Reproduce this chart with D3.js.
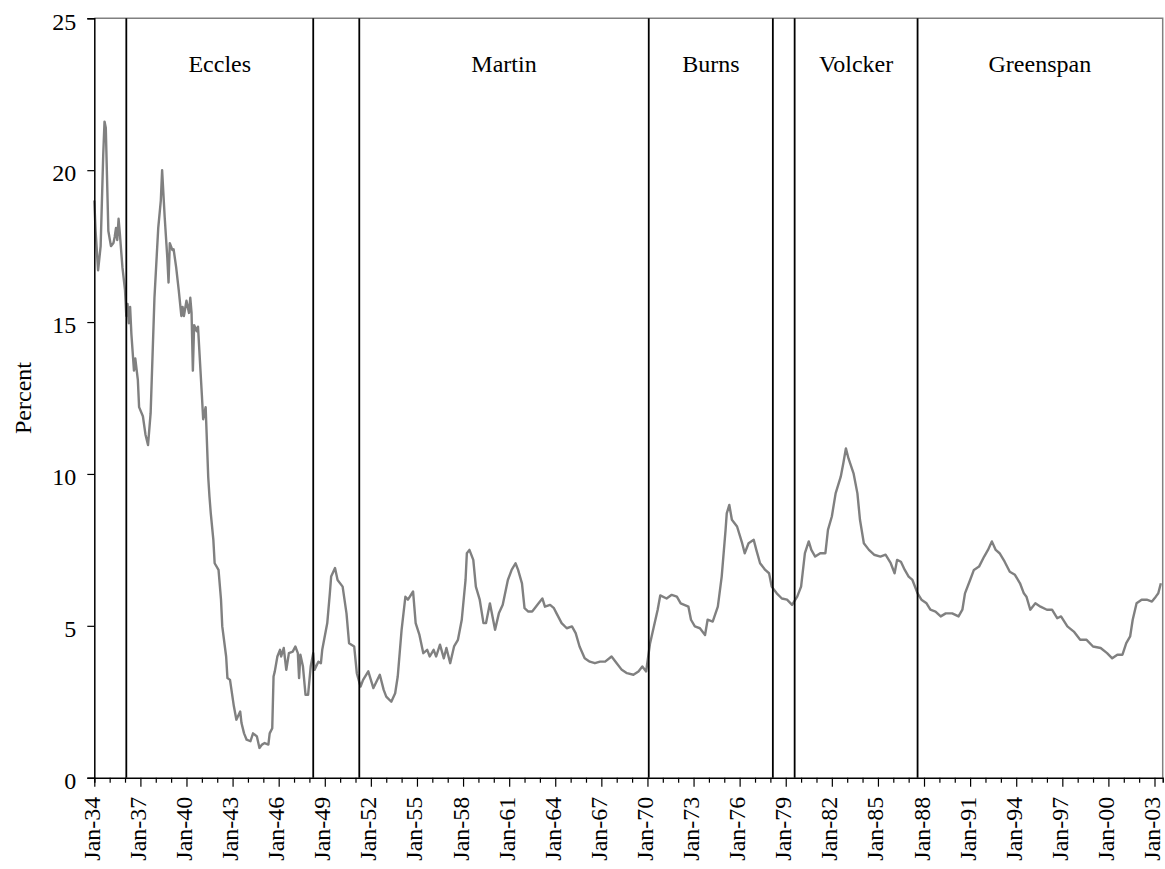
<!DOCTYPE html>
<html>
<head>
<meta charset="utf-8">
<script src="https://cdn.jsdelivr.net/npm/d3@7/dist/d3.min.js"></script>
<style>
  html, body { margin: 0; padding: 0; background: #fff; }
  svg { display: block; }
  text { font-family: "Liberation Serif", "Times New Roman", serif; fill: #000; }
</style>
</head>
<body>
<svg id="chart" width="1165" height="869"></svg>
<script>
// ---- Data ----
const months = [
"1934-01","1934-02","1934-04","1934-06","1934-08","1934-09","1934-10","1934-12",
"1935-02","1935-04","1935-05","1935-06","1935-07","1935-08","1935-09","1935-11",
"1936-01","1936-02","1936-03","1936-04","1936-05","1936-06","1936-08","1936-09","1936-11","1936-12",
"1937-03","1937-05","1937-07","1937-09","1937-12",
"1938-03","1938-05","1938-06","1938-08","1938-10","1938-11","1938-12",
"1939-02","1939-03","1939-05","1939-07","1939-09","1939-10","1939-11",
"1940-01","1940-03","1940-04","1940-05","1940-06","1940-07","1940-09","1940-10",
"1941-01","1941-02","1941-04","1941-06","1941-07","1941-08","1941-10","1941-11",
"1942-02","1942-04","1942-05","1942-08","1942-09","1942-11",
"1943-02","1943-04","1943-07","1943-08","1943-10","1943-12",
"1944-03","1944-05","1944-08","1944-10","1944-12",
"1945-02","1945-05","1945-06","1945-08","1945-09","1945-10","1945-12",
"1946-02","1946-03","1946-05","1946-07","1946-09","1946-12",
"1947-02","1947-04","1947-05","1947-06","1947-08","1947-10","1947-12",
"1948-02","1948-04","1948-05","1948-08","1948-10","1948-11",
"1949-03","1949-05","1949-06","1949-09","1949-11",
"1950-03","1950-06","1950-08","1950-12",
"1951-02","1951-05","1951-07","1951-11",
"1952-03","1952-08","1952-11",
"1953-01","1953-05","1953-08","1953-10",
"1954-01","1954-04","1954-06","1954-10","1954-12",
"1955-03","1955-06","1955-09","1955-11",
"1956-02","1956-04","1956-07","1956-10","1956-12",
"1957-03","1957-06","1957-09","1957-12",
"1958-03","1958-04","1958-06","1958-09","1958-11",
"1959-02","1959-05","1959-07","1959-10",
"1960-02","1960-05","1960-08","1960-12",
"1961-03","1961-06","1961-08","1961-11",
"1962-01","1962-04","1962-07","1962-09","1962-12",
"1963-03","1963-05","1963-09","1963-12",
"1964-02","1964-06","1964-10",
"1965-02","1965-05","1965-08","1965-12",
"1966-04","1966-08","1966-12",
"1967-04","1967-09",
"1968-01","1968-05","1968-09",
"1969-02","1969-06","1969-09","1969-12",
"1970-03","1970-07","1970-09","1970-11",
"1971-04","1971-08","1971-12",
"1972-03","1972-09","1972-11",
"1973-02","1973-06","1973-10","1973-12",
"1974-04","1974-08","1974-11",
"1975-02","1975-03","1975-05","1975-07","1975-11",
"1976-03","1976-05","1976-08","1976-12",
"1977-02","1977-05","1977-09","1977-12",
"1978-02","1978-06","1978-10",
"1979-02","1979-06","1979-10",
"1980-01","1980-04","1980-07","1980-09","1980-12",
"1981-04","1981-08","1981-10",
"1982-01","1982-04","1982-08","1982-10","1982-12",
"1983-02","1983-06","1983-09","1983-11",
"1984-02","1984-06","1984-10",
"1985-03","1985-07","1985-11",
"1986-02","1986-04","1986-07","1986-10",
"1987-01","1987-04","1987-08","1987-11",
"1988-03","1988-06","1988-10",
"1989-02","1989-06","1989-11",
"1990-04","1990-07","1990-09",
"1991-01","1991-04","1991-08","1991-12",
"1992-03","1992-06","1992-09","1992-12",
"1993-04","1993-08","1993-12",
"1994-04","1994-07","1994-09","1994-12",
"1995-04","1995-08",
"1996-01","1996-05","1996-09","1996-12",
"1997-05","1997-10",
"1998-03","1998-08",
"1999-01","1999-07","1999-12",
"2000-04","2000-08","2000-12",
"2001-03","2001-06","2001-08","2001-11",
"2002-03","2002-07","2002-11",
"2003-02","2003-04","2003-06"
];
const rates = [
19.0,18.0,16.7,17.5,20.5,21.6,21.4,18.0,
17.5,17.6,17.8,18.1,17.7,18.4,17.9,16.8,
16.05,15.2,15.6,14.96,15.5,14.6,13.4,13.8,13.1,12.2,
11.9,11.3,10.95,12.0,15.8,
18.1,19.0,20.0,18.46,17.15,16.3,17.6,
17.37,17.4,16.8,16.05,15.2,15.5,15.2,
15.7,15.3,15.8,15.3,13.4,14.9,14.7,14.85,
12.6,11.8,12.2,9.9,9.25,8.7,7.83,7.06,
6.84,5.86,4.98,3.99,3.28,3.22,
2.35,1.91,2.18,1.8,1.46,1.25,
1.2,1.46,1.36,0.98,1.09,
1.14,1.09,1.46,1.63,3.33,3.5,3.99,
4.21,3.99,4.27,3.55,4.1,4.15,
4.32,4.1,3.28,4.05,3.66,2.73,2.73,
3.66,4.1,3.55,3.82,3.77,4.21,
5.09,6.07,6.62,6.9,6.51,
6.29,5.41,4.43,4.32,
3.44,3.0,3.22,3.5,
2.95,3.39,2.89,
2.67,2.5,2.78,3.33,
4.87,5.96,5.86,6.13,5.09,
4.7,4.1,4.21,3.99,
4.21,3.99,4.38,3.93,4.27,
3.77,4.32,4.54,5.2,
6.51,7.39,7.5,7.17,6.29,
5.86,5.09,5.09,5.74,
4.87,5.41,5.69,6.51,
6.84,7.06,6.84,6.4,
5.58,5.47,5.47,5.58,5.74,
5.9,5.63,5.69,5.58,
5.41,5.09,4.92,
4.98,4.76,4.32,3.93,
3.82,3.77,3.82,
3.82,3.99,
3.77,3.55,3.44,
3.39,3.5,3.66,3.5,
4.4,5.15,5.53,6.0,
5.9,6.02,5.96,
5.74,5.63,5.2,
4.98,4.92,4.7,5.2,
5.14,5.63,6.62,
8.16,8.7,8.98,8.49,8.27,
7.72,7.39,7.72,7.83,
7.5,7.06,6.84,6.73,
6.29,6.07,5.9,
5.86,5.69,5.96,
6.29,7.39,7.78,7.5,7.28,
7.39,7.39,8.16,
8.6,9.36,9.91,10.35,10.84,
10.51,10.02,9.36,8.49,
7.72,7.5,7.34,
7.28,7.34,7.06,
6.73,7.17,7.11,6.84,
6.62,6.51,6.07,5.86,
5.74,5.53,5.47,
5.31,5.41,5.41,
5.31,5.53,6.07,
6.51,6.84,6.95,7.28,
7.5,7.78,7.5,7.39,
7.11,6.78,6.68,
6.4,6.07,5.96,5.53,
5.74,5.63,
5.53,5.53,5.25,5.31,
4.98,4.81,
4.54,4.54,
4.32,4.27,4.1,
3.93,4.05,4.05,
4.43,4.65,5.2,5.74,
5.86,5.86,5.8,
5.96,6.07,6.4
];

// Chairman boundaries (vertical lines) and label spans
const chairLines = ["1936-02","1948-04","1951-04","1970-02","1978-03","1979-08","1987-08"];
const chairNames = ["Eccles","Martin","Burns","Volcker","Greenspan"];
const chairStarts = ["1936-02","1951-04","1970-02","1979-08","1987-08"];
const chairEnds   = ["1948-04","1970-02","1978-03","1987-08","2003-07"];

const yTicks = [0,5,10,15,20,25];
const axisStart = "1934-01", axisEnd = "2003-07";

// ---- Drawing ----
(function () {
const parse = d3.timeParse("%Y-%m");
const svg = d3.select("#chart");
const pLeft = 94.3, pRight = 1162.7, pTop = 18.3, pBottom = 777.7;

if (months.length !== rates.length) {
  throw new Error("length mismatch " + months.length + " vs " + rates.length);
}

const x = d3.scaleTime()
  .domain([parse(axisStart), d3.timeDay.offset(parse(axisEnd), 14)])
  .range([pLeft, pRight]);
const y = d3.scaleLinear().domain([0, 25]).range([pBottom, pTop]);

const data = months.map((m, i) => ({ d: parse(m), v: rates[i] }));

// plot frame (top & right in grey)
svg.append("path")
  .attr("d", `M${pLeft},${pTop}H${pRight}V${pBottom}`)
  .attr("fill", "none").attr("stroke", "#808080").attr("stroke-width", 1.5);

// series line
svg.append("path")
  .datum(data)
  .attr("fill", "none")
  .attr("stroke", "#808080")
  .attr("stroke-width", 2.4)
  .attr("stroke-linejoin", "round")
  .attr("d", d3.line().x(d => x(d.d)).y(d => y(d.v)));

// chairman lines
svg.append("g").selectAll("line").data(chairLines).join("line")
  .attr("x1", d => x(parse(d))).attr("x2", d => x(parse(d)))
  .attr("y1", pTop).attr("y2", pBottom)
  .attr("stroke", "#000").attr("stroke-width", 1.8);

// chairman labels
svg.append("g").selectAll("text").data(chairNames).join("text")
  .attr("x", (d, i) => (x(parse(chairStarts[i])) + x(parse(chairEnds[i]))) / 2)
  .attr("y", 71.5)
  .attr("text-anchor", "middle")
  .attr("font-size", 24)
  .text(d => d);

// y axis
const yAxis = svg.append("g")
  .attr("transform", `translate(${pLeft},0)`)
  .call(d3.axisLeft(y).tickValues(yTicks).tickSize(7).tickPadding(11).tickFormat(d3.format("d")));
yAxis.select(".domain").attr("stroke", "#000").attr("stroke-width", 1.5);
yAxis.selectAll(".tick line").attr("stroke", "#000").attr("stroke-width", 1.2);
yAxis.selectAll("text").attr("font-size", 24).attr("font-family", "Liberation Serif, Times New Roman, serif").attr("dy", "0.45em");

// x axis: a tick every January, labels every 3 years
const years = d3.timeYear.range(parse(axisStart), parse(axisEnd));
const fmt = d3.timeFormat("%b-%y");
const xAxis = svg.append("g")
  .attr("transform", `translate(0,${pBottom})`)
  .call(d3.axisBottom(x).tickValues(years).tickSize(5).tickFormat(""));
xAxis.select(".domain").attr("stroke", "#000").attr("stroke-width", 1.5);
xAxis.selectAll(".tick line").attr("stroke", "#000").attr("stroke-width", 1.2)
  .attr("y2", d => (d.getFullYear() - 1934) % 3 === 0 ? 9 : 5);

const labelYears = years.filter(d => (d.getFullYear() - 1934) % 3 === 0);
svg.append("g").selectAll("text").data(labelYears).join("text")
  .attr("transform", d => `translate(${x(d) + 5.5},${pBottom + 19}) rotate(-90)`)
  .attr("text-anchor", "end")
  .attr("font-size", 24)
  .text(d => fmt(d));

// y axis title
svg.append("text")
  .attr("transform", `translate(31,398) rotate(-90)`)
  .attr("text-anchor", "middle")
  .attr("font-size", 24)
  .text("Percent");
})();
</script>
</body>
</html>
